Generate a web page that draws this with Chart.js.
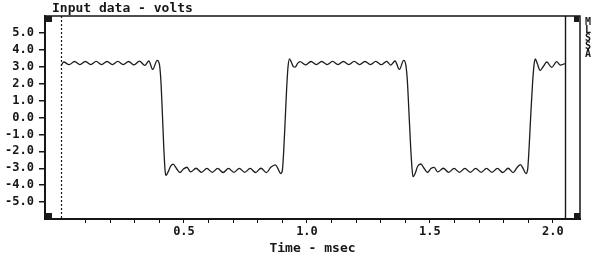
<!DOCTYPE html>
<html>
<head>
<meta charset="utf-8">
<script src="https://cdn.jsdelivr.net/npm/chart.js@4.4.1/dist/chart.umd.min.js"></script>
<style>
  html, body { margin: 0; padding: 0; background: #fff; }
  canvas { display: block; }
</style>
</head>
<body>
<canvas id="scope" width="600" height="263"></canvas>
<script>
// waveform (time in ms, level in volts)
const timeMs = [
  0.000, 0.011, 0.033, 0.055, 0.077, 0.099, 0.121, 0.143, 0.165, 0.187,
  0.209, 0.231, 0.253, 0.275, 0.297, 0.319, 0.341, 0.357, 0.373, 0.391,
  0.400, 0.406, 0.412, 0.418, 0.423, 0.427, 0.436, 0.446, 0.456, 0.469,
  0.483, 0.498, 0.512, 0.527, 0.549, 0.571, 0.593, 0.615, 0.637, 0.659,
  0.681, 0.703, 0.725, 0.747, 0.769, 0.791, 0.813, 0.835, 0.853, 0.872,
  0.882, 0.893, 0.900, 0.905, 0.911, 0.917, 0.923, 0.929, 0.937, 0.945,
  0.952, 0.962, 0.972, 0.994, 1.016, 1.038, 1.060, 1.082, 1.104, 1.126,
  1.148, 1.170, 1.192, 1.214, 1.236, 1.258, 1.280, 1.302, 1.324, 1.340,
  1.358, 1.376, 1.393, 1.402, 1.408, 1.414, 1.420, 1.426, 1.431, 1.440,
  1.450, 1.463, 1.476, 1.490, 1.504, 1.517, 1.532, 1.554, 1.576, 1.598,
  1.620, 1.642, 1.664, 1.686, 1.708, 1.730, 1.752, 1.774, 1.796, 1.818,
  1.838, 1.855, 1.868, 1.879, 1.890, 1.897, 1.903, 1.910, 1.917, 1.923,
  1.928, 1.936, 1.948, 1.960, 1.975, 1.995, 2.015, 2.030, 2.048
];
const volts = [
  3.06, 3.28, 3.12, 3.31, 3.13, 3.31, 3.13, 3.32, 3.13, 3.31,
  3.13, 3.32, 3.13, 3.31, 3.11, 3.33, 3.08, 3.34, 2.84, 3.38,
  3.15, 2.20, 0.30, -1.80, -3.10, -3.43, -3.20, -2.88, -2.76, -3.00,
  -3.25, -3.04, -2.94, -3.22, -3.00, -3.24, -3.01, -3.24, -3.01, -3.25,
  -3.01, -3.24, -3.01, -3.24, -3.01, -3.25, -3.00, -3.26, -2.94, -2.80,
  -3.02, -3.31, -3.12, -2.10, -0.30, 1.60, 3.00, 3.47, 3.25, 3.00,
  2.98, 3.20, 3.30, 3.11, 3.31, 3.13, 3.31, 3.13, 3.32, 3.13,
  3.31, 3.13, 3.32, 3.13, 3.31, 3.13, 3.32, 3.12, 3.32, 3.10,
  3.34, 2.84, 3.38, 3.10, 2.20, 0.50, -1.30, -2.80, -3.50, -3.30,
  -2.88, -2.75, -3.00, -3.25, -3.02, -2.95, -3.22, -3.00, -3.24, -3.01,
  -3.24, -3.01, -3.24, -3.01, -3.24, -3.01, -3.24, -3.01, -3.25, -3.00,
  -3.26, -2.94, -2.78, -3.02, -3.32, -3.10, -1.80, 0.20, 2.00, 3.10,
  3.47, 3.20, 2.78, 3.00, 3.28, 2.96, 3.30, 3.10, 3.18
];

const yTicks = [5, 4, 3, 2, 1, 0, -1, -2, -3, -4, -5];
const yTickLabels = ['5.0', '4.0', '3.0', '2.0', '1.0', '0.0', '-1.0', '-2.0', '-3.0', '-4.0', '-5.0'];
const xTicks = [0.1, 0.2, 0.3, 0.4, 0.5, 0.6, 0.7, 0.8, 0.9, 1.0,
                1.1, 1.2, 1.3, 1.4, 1.5, 1.6, 1.7, 1.8, 1.9, 2.0];
const xMajor = [0.5, 1.0, 1.5, 2.0];
const xMajorLabels = ['0.5', '1.0', '1.5', '2.0'];

const ink = '#161616';
const mono = 'DejaVu Sans Mono';

// scope frame: title, border, start/end markers, corner blocks, side tag
const scopeFrame = {
  id: 'scopeFrame',
  beforeDraw(chart) {
    const c = chart.ctx;
    c.save();
    c.fillStyle = '#fff';
    c.fillRect(0, 0, chart.width, chart.height);
    c.restore();
  },
  afterDatasetsDraw(chart) {
    const c = chart.ctx;
    const a = chart.chartArea;
    const xs = chart.scales.x;
    c.save();
    c.strokeStyle = ink;

    // top and right edges
    c.lineWidth = 1.5;
    c.beginPath();
    c.moveTo(a.left, a.top);
    c.lineTo(a.right, a.top);
    c.lineTo(a.right, a.bottom);
    c.stroke();

    // start of record (dotted) and end of record (solid)
    const x0 = Math.round(xs.getPixelForValue(timeMs[0])) + 0.5;
    c.lineWidth = 1.2;
    c.setLineDash([2, 2]);
    c.beginPath();
    c.moveTo(x0, a.top);
    c.lineTo(x0, a.bottom);
    c.stroke();
    c.setLineDash([]);
    const x1 = Math.round(xs.getPixelForValue(timeMs[timeMs.length - 1])) + 0.5;
    c.lineWidth = 1.4;
    c.beginPath();
    c.moveTo(x1, a.top);
    c.lineTo(x1, a.bottom);
    c.stroke();

    // corner blocks
    c.fillStyle = '#1a1a1a';
    c.fillRect(a.left + 1, a.top, 6, 6);
    c.fillRect(a.left + 1, a.bottom - 6, 6, 6);
    c.fillRect(a.right - 6, a.top, 5, 6);
    c.fillRect(a.right - 6, a.bottom - 6, 6, 6);

    // title
    c.fillStyle = ink;
    c.font = 'bold 13px "' + mono + '"';
    c.textAlign = 'left';
    c.textBaseline = 'alphabetic';
    c.fillText('Input data - volts', a.left + 7, 12);

    // stacked side tag
    c.font = 'bold 10px "' + mono + '"';
    c.textAlign = 'center';
    c.textBaseline = 'alphabetic';
    'MLSSA'.split('').forEach((ch, i) => {
      c.fillText(ch, a.right + 8, a.top + 9 + i * 8);
    });
    c.restore();
  }
};

let ctx = document.getElementById('scope').getContext('2d');

let scopeChart = new Chart(ctx, {
  type: 'line',
  data: {
    datasets: [{
      data: timeMs.map((t, i) => ({ x: t, y: volts[i] })),
      borderColor: '#1e1e1e',
      borderWidth: 1.3,
      pointRadius: 0,
      fill: false,
      cubicInterpolationMode: 'monotone'
    }]
  },
  options: {
    responsive: false,
    animation: false,
    layout: { padding: { top: 16, right: 20, left: 0, bottom: 0 } },
    plugins: {
      legend: { display: false },
      tooltip: { enabled: false }
    },
    scales: {
      x: {
        type: 'linear',
        min: -0.065,
        max: 2.11,
        afterBuildTicks: s => { s.ticks = xTicks.map(v => ({ value: v })); },
        afterFit: s => { s.height = 44; },
        ticks: {
          autoSkip: false,
          maxRotation: 0,
          padding: 2,
          color: ink,
          font: { family: mono, weight: 'bold', size: 12 },
          callback: v => {
            const k = xMajor.findIndex(m => Math.abs(m - v) < 1e-6);
            return k >= 0 ? xMajorLabels[k] : '';
          }
        },
        grid: { drawOnChartArea: false, tickLength: 4, color: ink, lineWidth: 1 },
        border: { color: ink, width: 2 },
        title: {
          display: true,
          text: 'Time - msec',
          color: ink,
          font: { family: mono, weight: 'bold', size: 13 },
          padding: { top: 0, bottom: 7 }
        }
      },
      y: {
        min: -6,
        max: 6,
        afterBuildTicks: s => { s.ticks = yTicks.map(v => ({ value: v })); },
        afterFit: s => { s.width = 45; },
        ticks: {
          padding: 5,
          color: ink,
          font: { family: mono, weight: 'bold', size: 12 },
          callback: v => {
            const k = yTicks.indexOf(v);
            return k >= 0 ? yTickLabels[k] : '';
          }
        },
        grid: { drawOnChartArea: false, tickLength: 6, color: ink, lineWidth: 1.5 },
        border: { color: ink, width: 2 }
      }
    }
  },
  plugins: [scopeFrame]
});
</script>
</body>
</html>
